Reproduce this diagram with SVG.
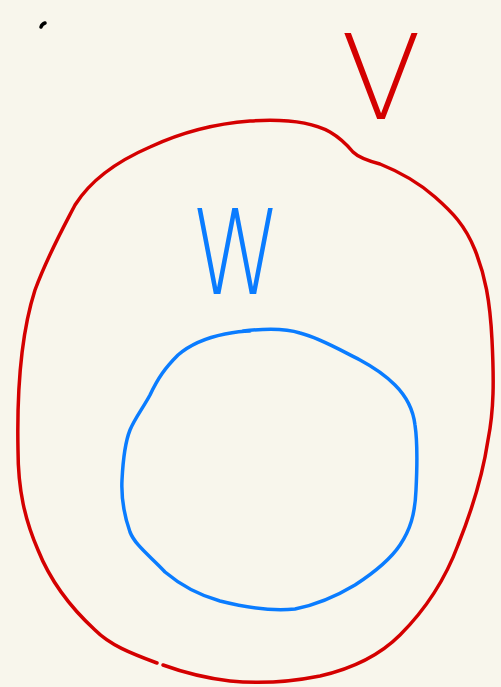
<svg xmlns="http://www.w3.org/2000/svg" width="501" height="687" viewBox="0 0 501 687">
<style>
.s{fill:none;stroke-width:3.5;stroke-linecap:round;stroke-linejoin:round}
.r{stroke:#d40000}
.b{stroke:#0a7cff}
.t{font-family:"DejaVu Sans","Liberation Sans",sans-serif;font-weight:200}
</style>
<rect width="501" height="687" fill="#f8f6ec"/>
<g id="dot"><path class="s" d="M41,27 Q42,24 45,23" stroke="#000" stroke-width="3"/></g>
<g id="outer">
<path class="s r" d="M157,663 C130,653 110,645 95,630 C70,607 50,580 38,550 C25,520 18,490 18,450 C17,400 19,340 35,290 C48,255 62,230 75,205 C92,178 120,160 150,147 C180,133 210,124 250,121 C280,119 310,121 330,132 C342,139 348,146 353,152 C358,157 365,160 380,164 C400,172 418,182 435,197 C452,212 465,225 475,250 C485,275 490,300 492,340 C494,380 494,410 488,440 C482,480 470,515 458,545 C445,580 425,610 400,635 C380,655 355,668 320,676 C290,682 260,684 230,681 C205,678 185,673 163,665"/>
</g>
<g id="inner">
<path class="s b" d="M243,331 C260,329 285,328 300,333 C320,338 340,350 360,360 C375,368 385,375 395,385 C405,395 413,408 415,425 C418,445 417,470 416,490 C415,515 410,530 400,545 C390,560 375,572 355,585 C335,597 315,605 295,609 C270,612 240,606 220,601 C195,594 178,583 165,572 C150,556 135,545 130,532 C124,515 121,500 122,480 C123,460 126,440 130,430 C135,418 143,408 150,395 C158,378 165,368 178,355 C192,343 210,337 225,334 C235,332 240,331 250,331"/>
</g>
<g id="labelV"><text class="t" x="381" y="119" font-size="118" fill="#d40000" text-anchor="middle">V</text></g>
<g id="labelW"><text class="t" x="236" y="294" font-size="117" fill="#0a7cff" text-anchor="middle" transform="translate(236,294) scale(0.78,1) translate(-236,-294)">W</text></g>
</svg>
